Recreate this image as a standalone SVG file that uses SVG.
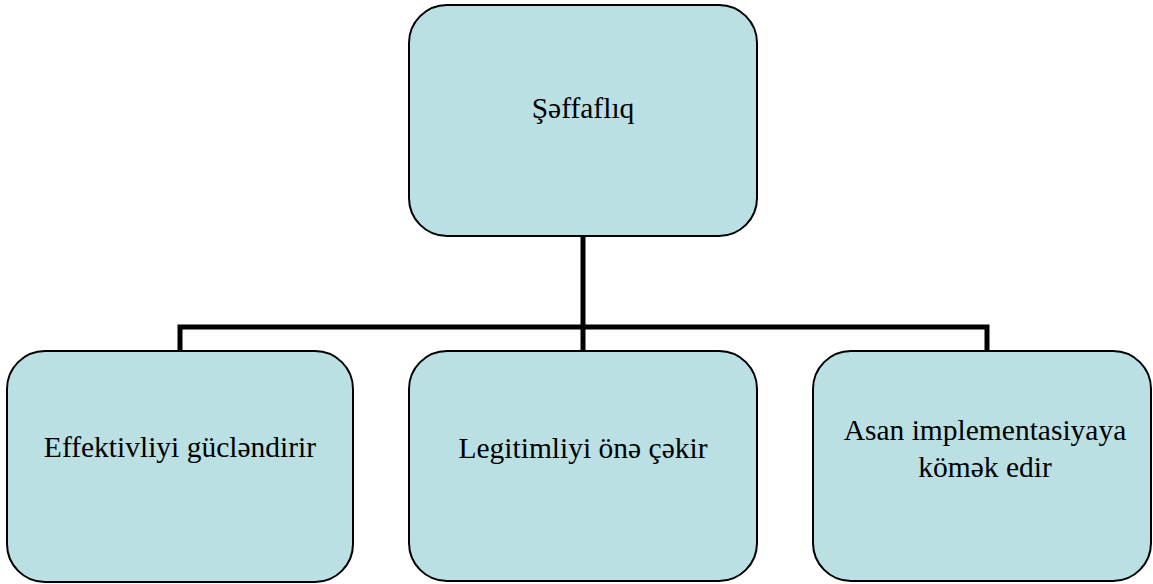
<svg xmlns="http://www.w3.org/2000/svg" width="1153" height="584" viewBox="0 0 1153 584">
<style>
.box{fill:#bae0e3;stroke:#000;stroke-width:2}
.lbl{font-family:'Liberation Serif','Times New Roman',serif;font-size:29.5px;fill:#000;text-anchor:middle}
.con{fill:none;stroke:#000;stroke-width:5}
</style>
<rect width="1153" height="584" fill="#fff"/>
<g id="connectors">
<polyline class="con" points="583,236 583,327"/>
<polyline class="con" points="180,351 180,327 987,327 987,351"/>
<polyline class="con" points="583,327 583,351"/>
</g>
<g id="top">
<rect class="box" x="409" y="5" width="348" height="231" rx="38" ry="38"/>
<text class="lbl" x="583" y="118">Şəffaflıq</text>
</g>
<g id="left">
<rect class="box" x="7" y="351" width="346" height="231" rx="38" ry="38"/>
<text class="lbl" x="180" y="457">Effektivliyi gücləndirir</text>
</g>
<g id="middle">
<rect class="box" x="409" y="351" width="348" height="230" rx="38" ry="38"/>
<text class="lbl" x="583" y="458">Legitimliyi önə çəkir</text>
</g>
<g id="right">
<rect class="box" x="813" y="351" width="338" height="230" rx="38" ry="38"/>
<text class="lbl" x="985" y="440">Asan implementasiyaya</text>
<text class="lbl" x="985" y="477">kömək edir</text>
</g>
</svg>
